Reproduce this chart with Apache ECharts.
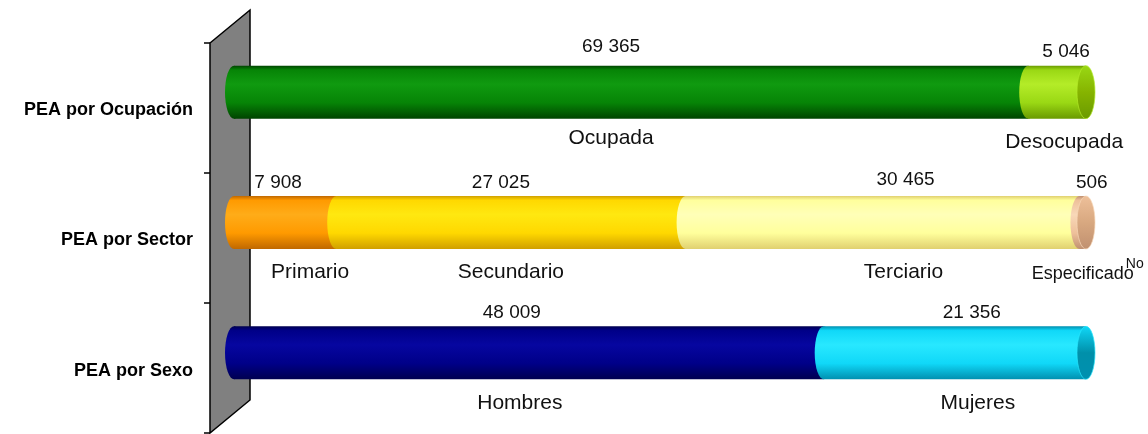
<!DOCTYPE html>
<html>
<head>
<meta charset="utf-8">
<script src="https://cdn.jsdelivr.net/npm/echarts@6/dist/echarts.min.js"></script>
<style>
html, body { margin: 0; padding: 0; background: #fff; }
#pea-chart { width: 1148px; height: 434px; }
</style>
</head>
<body>
<div id="pea-chart"></div>
<script>
// categorias del eje
const categories = ['PEA por Ocupación', 'PEA por Sector', 'PEA por Sexo'];

// segmentos de cada barra
const ocupacionNames = ['Ocupada', 'Desocupada'];
const ocupacionValues = [69365, 5046];
const sectorNames = ['Primario', 'Secundario', 'Terciario', 'No Especificado'];
const sectorValues = [7908, 27025, 30465, 506];
const sexoNames = ['Hombres', 'Mujeres'];
const sexoValues = [48009, 21356];

const groups = [
  { names: ocupacionNames, values: ocupacionValues },
  { names: sectorNames, values: sectorValues },
  { names: sexoNames, values: sexoValues }
];

// colores del cilindro: claro, medio, oscuro, tapa
const segColors = {
  'Ocupada':         { light: '#109a10', mid: '#068406', dark: '#004400', cap: '#006a00' },
  'Desocupada':      { light: '#b4ec28', mid: '#9ad814', dark: '#6a9a00', cap: '#86b400' },
  'Primario':        { light: '#ffac18', mid: '#ff9a00', dark: '#c06800', cap: '#e08800' },
  'Secundario':      { light: '#ffe810', mid: '#ffd800', dark: '#d0a000', cap: '#e8c000' },
  'Terciario':       { light: '#ffffb8', mid: '#ffff9c', dark: '#e0d070', cap: '#f0e890' },
  'No Especificado': { light: '#f8d8b8', mid: '#eec09a', dark: '#c09070', cap: '#d8a880' },
  'Hombres':         { light: '#0606a0', mid: '#000088', dark: '#000050', cap: '#000070' },
  'Mujeres':         { light: '#28e8ff', mid: '#10d8f8', dark: '#0090b0', cap: '#0090aa' }
};
// desplazamiento de etiquetas: [dx valor, dy valor, dx nombre, dy nombre]
const labelNudge = {
  'Ocupada': [-20, -5, -20, -4],
  'Desocupada': [9, 0, 7, 0],
  'Primario': [-7, 0, 25, 0],
  'Secundario': [-10, 0, 0, 0],
  'Terciario': [23, -3, 21, 0],
  'No Especificado': [9, 0, 0, 0],
  'Hombres': [-17, 0, -9, 0],
  'Mujeres': [17, 0, 23, 0]
};
const BAR_W = 53;
const CAP_RX = 9;

function cyl(c) {
  return new echarts.graphic.LinearGradient(0, 0, 0, 1, [
    { offset: 0, color: c.dark },
    { offset: 0.08, color: c.mid },
    { offset: 0.35, color: c.light },
    { offset: 0.7, color: c.mid },
    { offset: 1, color: c.dark }
  ]);
}
function capFill(c) {
  return new echarts.graphic.LinearGradient(0, 0, 0, 1, [
    { offset: 0, color: c.mid },
    { offset: 0.5, color: c.cap },
    { offset: 1, color: c.dark }
  ]);
}
function fmt(v) {
  return String(v).replace(/\B(?=(\d{3})+(?!\d))/g, ' ');
}

const series = [];
const segInfo = [];
groups.forEach((g, gi) => {
  const total = g.values.reduce((a, b) => a + b, 0);
  let start = 0;
  g.values.forEach((v, j) => {
    const pct = v / total * 100;
    series.push({
      type: 'bar',
      name: g.names[j],
      stack: 'pea',
      barWidth: BAR_W,
      silent: true,
      itemStyle: { color: cyl(segColors[g.names[j]]) },
      data: categories.map((c, ci) => (ci === gi ? pct : '-'))
    });
    segInfo.push({ start: start, end: start + pct, cat: gi, value: v, name: g.names[j], last: j === g.values.length - 1 });
    start += pct;
  });
});

// tapas elipticas y etiquetas
series.push({
  type: 'custom',
  z: 3,
  clip: false,
  silent: true,
  data: segInfo.map(s => [s.start, s.end, s.cat]),
  renderItem: function (params, api) {
    const s = segInfo[params.dataIndex];
    const p0 = api.coord([s.start, s.cat]);
    const p1 = api.coord([s.end, s.cat]);
    const half = BAR_W / 2;
    const c = segColors[s.name];
    const nd = labelNudge[s.name] || [0, 0, 0, 0];
    const mid = (p0[0] + p1[0]) / 2;
    const kids = [{
      type: 'circle', x: p0[0], y: p0[1], scaleX: CAP_RX / half,
      shape: { cx: 0, cy: 0, r: half }, style: { fill: cyl(c) }
    }];
    if (s.last) {
      kids.push({
        type: 'circle', x: p1[0], y: p1[1], scaleX: CAP_RX / half,
        shape: { cx: 0, cy: 0, r: half }, style: { fill: capFill(c), stroke: c.light, lineWidth: 1 }
      });
    }
    kids.push({
      type: 'text', x: mid + nd[0], y: p0[1] - 40 + nd[1],
      style: { text: fmt(s.value), fill: '#111', fontSize: 19, fontFamily: 'Liberation Sans', align: 'center', verticalAlign: 'middle' }
    });
    const words = s.name.split(' ');
    if (words.length > 1) {
      // "No" pequeño encima, como en el original
      kids.push({
        type: 'text', x: mid + nd[2], y: p0[1] + 52 + nd[3],
        style: { text: words.slice(1).join(' '), fill: '#111', fontSize: 18, fontFamily: 'Liberation Sans', align: 'center', verticalAlign: 'middle' }
      });
      kids.push({
        type: 'text', x: mid + nd[2] + 61, y: p0[1] + 42 + nd[3],
        style: { text: words[0], fill: '#111', fontSize: 14, fontFamily: 'Liberation Sans', align: 'right', verticalAlign: 'middle' }
      });
    } else {
      kids.push({
        type: 'text', x: mid + nd[2], y: p0[1] + 50 + nd[3],
        style: { text: s.name, fill: '#111', fontSize: 21, fontFamily: 'Liberation Sans', align: 'center', verticalAlign: 'middle' }
      });
    }
    return { type: 'group', children: kids };
  }
});

const wallTicks = [43, 173, 303, 433].map(y => ({
  type: 'line', shape: { x1: 204, y1: y, x2: 210, y2: y }, style: { stroke: '#000', lineWidth: 1.5 }
}));

const chart = echarts.init(document.getElementById('pea-chart'));
chart.setOption({
  animation: false,
  backgroundColor: '#fff',
  grid: { left: 234, right: 62, top: 27, bottom: 16 },
  xAxis: { type: 'value', min: 0, max: 100, show: false },
  yAxis: {
    type: 'category',
    inverse: true,
    data: categories,
    axisLine: { show: false },
    axisTick: { show: false },
    axisLabel: {
      margin: 41,
      verticalAlign: 'top',
      lineHeight: 36,
      color: '#000',
      fontSize: 18,
      fontWeight: 'bold',
      fontFamily: 'Liberation Sans'
    }
  },
  graphic: [{
    type: 'polygon',
    z: -1,
    shape: { points: [[210, 43], [250, 10], [250, 400], [210, 433]] },
    style: { fill: '#808080', stroke: '#000', lineWidth: 1.5 }
  }].concat(wallTicks),
  series: series
});
</script>
</body>
</html>
